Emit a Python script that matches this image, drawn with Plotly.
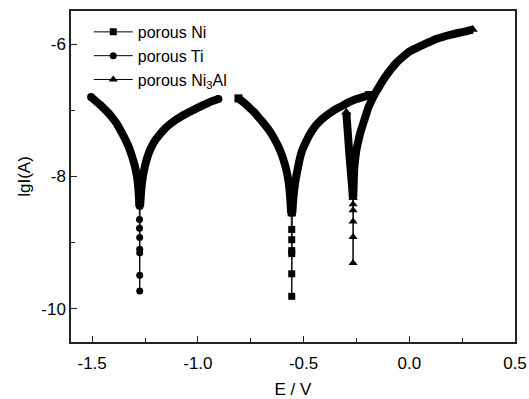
import plotly.graph_objects as go

# ---- data (E in V, lg I in A) ----
ti_cath_E = [-1.505, -1.485, -1.465, -1.445, -1.422, -1.40, -1.378, -1.358, -1.34, -1.325, -1.311,
             -1.300, -1.292, -1.286, -1.282, -1.279, -1.277]
ti_cath_lg = [-6.80, -6.855, -6.91, -6.97, -7.045, -7.13, -7.23, -7.35, -7.46, -7.57, -7.70,
              -7.82, -7.93, -8.04, -8.16, -8.30, -8.45]
ti_min_E = [-1.276, -1.276, -1.275, -1.275, -1.275, -1.275, -1.275]
ti_min_lg = [-8.65, -8.78, -8.92, -9.10, -9.155, -9.49, -9.73]
ti_an_E = [-1.273, -1.270, -1.266, -1.261, -1.254, -1.246, -1.236, -1.222, -1.205, -1.186, -1.165,
           -1.14, -1.107, -1.075, -1.04, -0.997, -0.95, -0.903]
ti_an_lg = [-8.45, -8.30, -8.15, -8.02, -7.90, -7.79, -7.68, -7.57, -7.47, -7.39, -7.31,
            -7.23, -7.15, -7.085, -7.025, -6.955, -6.885, -6.83]

ni_cath_E = [-0.808, -0.78, -0.753, -0.733, -0.715, -0.695, -0.675, -0.657, -0.64, -0.625, -0.612,
             -0.601, -0.592, -0.584, -0.577, -0.571, -0.566, -0.562, -0.559]
ni_cath_lg = [-6.82, -6.89, -6.97, -7.03, -7.10, -7.17, -7.25, -7.33, -7.42, -7.51, -7.60,
              -7.69, -7.78, -7.87, -7.97, -8.08, -8.22, -8.38, -8.55]
ni_min_E = [-0.556, -0.556, -0.556, -0.556, -0.556, -0.556]
ni_min_lg = [-8.80, -8.955, -9.12, -9.165, -9.47, -9.81]
ni_an_E = [-0.553, -0.550, -0.546, -0.540, -0.533, -0.525, -0.517, -0.507, -0.495, -0.480, -0.462,
           -0.445, -0.425, -0.400, -0.370, -0.340, -0.310, -0.280, -0.250, -0.220, -0.190]
ni_an_lg = [-8.55, -8.40, -8.25, -8.10, -7.97, -7.84, -7.72, -7.61, -7.52, -7.42, -7.32,
            -7.24, -7.17, -7.10, -7.03, -6.97, -6.92, -6.87, -6.83, -6.80, -6.77]

al_cath_E = [-0.298, -0.294, -0.290, -0.286, -0.282, -0.278, -0.274, -0.270, -0.267]
al_cath_lg = [-7.03, -7.20, -7.37, -7.55, -7.72, -7.87, -8.02, -8.18, -8.32]
al_min_E = [-0.266, -0.266, -0.266, -0.266, -0.266]
al_min_lg = [-8.42, -8.51, -8.68, -8.915, -9.305]
al_an_E = [-0.265, -0.263, -0.261, -0.258, -0.254, -0.250, -0.245, -0.240, -0.234, -0.227, -0.220,
           -0.211, -0.203, -0.195, -0.184, -0.172, -0.157, -0.140, -0.125, -0.11, -0.094, -0.077,
           -0.06, -0.04, -0.02, 0.0, 0.02, 0.04, 0.06, 0.08, 0.105, 0.13, 0.16, 0.19, 0.22, 0.25,
           0.275, 0.30]
al_an_lg = [-8.32, -8.10, -7.92, -7.80, -7.69, -7.60, -7.52, -7.45, -7.37, -7.29, -7.22,
            -7.13, -7.05, -6.97, -6.89, -6.81, -6.72, -6.63, -6.55, -6.48, -6.41, -6.34,
            -6.28, -6.22, -6.165, -6.115, -6.08, -6.05, -6.02, -5.99, -5.955, -5.92, -5.89, -5.865,
            -5.84, -5.82, -5.80, -5.78]

series = [
    ("porous Ni", "square", 7, ni_cath_E, ni_cath_lg, ni_min_E, ni_min_lg, ni_an_E, ni_an_lg),
    ("porous Ti", "circle", 7, ti_cath_E, ti_cath_lg, ti_min_E, ti_min_lg, ti_an_E, ti_an_lg),
    ("porous Ni<sub>3</sub>Al", "triangle-up", 8, al_cath_E, al_cath_lg, al_min_E, al_min_lg, al_an_E, al_an_lg),
]

FONT = "Liberation Sans, Arial, sans-serif"
fig = go.Figure()

for name, sym, msz, cE, cL, mE, mL, aE, aL in series:
    # sparse points around the corrosion potential (legend entry)
    fig.add_trace(go.Scatter(
        x=[cE[-1]] + mE + [aE[0]], y=[cL[-1]] + mL + [aL[0]], name=name, mode="lines+markers",
        line=dict(color="black", width=1),
        marker=dict(symbol=sym, size=msz, color="black", line=dict(width=0)),
        showlegend=True, hoverinfo="skip",
    ))
for name, sym, msz, cE, cL, mE, mL, aE, aL in series:
    # dense marker band
    fig.add_trace(go.Scatter(
        x=cE + [None] + aE, y=cL + [None] + aL, mode="lines",
        line=dict(color="black", width=8, shape="spline", smoothing=0.6),
        showlegend=False, hoverinfo="skip", connectgaps=False,
    ))
    fig.add_trace(go.Scatter(
        x=[cE[0], aE[-1]], y=[cL[0], aL[-1]], mode="markers",
        marker=dict(symbol=sym, size=msz + 1, color="black"), showlegend=False, hoverinfo="skip",
    ))

axis_common = dict(
    showgrid=False, zeroline=False, showline=True, linecolor="#222", linewidth=1.5,
    mirror=True, ticks="inside", ticklen=6, tickwidth=1.2, tickcolor="#222",
    tickfont=dict(family=FONT, size=17, color="black"), automargin=False,
)
fig.update_xaxes(range=[-1.6, 0.5], tickvals=[-1.5, -1.0, -0.5, 0.0, 0.5],
                 ticktext=["-1.5", "-1.0", "-0.5", "0.0", "0.5"], ticklabelstandoff=5,
                 minor=dict(tickvals=[-1.25, -0.75, -0.25, 0.25], ticklen=4, tickwidth=1.2,
                            tickcolor="#222", ticks="inside"),
                 title=dict(text="E / V", font=dict(family=FONT, size=17, color="black"), standoff=16),
                 **axis_common)
fig.update_yaxes(range=[-10.5, -5.5], tickvals=[-10, -8, -6], ticktext=["-10", "-8", "-6"],
                 minor=dict(tickvals=[-9, -7], ticklen=4, tickwidth=1.2, tickcolor="#222", ticks="inside"),
                 title=dict(text="lgI(A)", font=dict(family=FONT, size=17, color="black"), standoff=6),
                 **axis_common)

fig.update_layout(
    width=529, height=399,
    margin=dict(l=71, r=14, t=11, b=57),
    paper_bgcolor="white", plot_bgcolor="white",
    font=dict(family=FONT, size=17, color="black"),
    legend=dict(x=0.04, y=0.988, xanchor="left", yanchor="top", bgcolor="rgba(0,0,0,0)",
                font=dict(family=FONT, size=16), tracegroupgap=0, itemwidth=39),
    showlegend=True,
)

fig.write_html("out.html")
